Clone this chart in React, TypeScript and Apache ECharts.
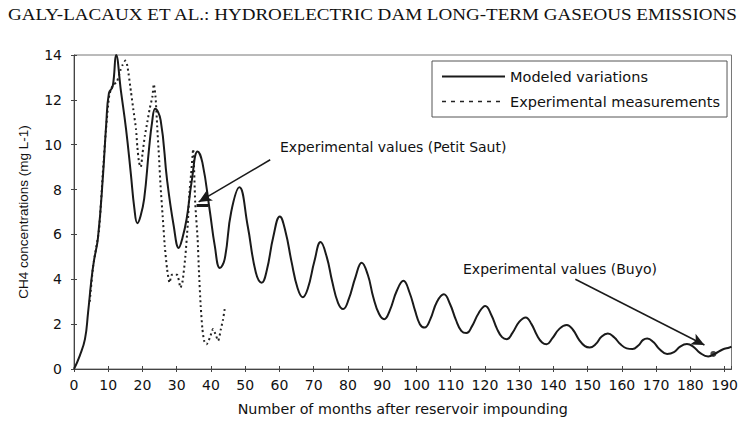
import React, { useEffect, useRef } from "react";
import * as echarts from "echarts";

const TITLE = "GALY-LACAUX ET AL.: HYDROELECTRIC DAM LONG-TERM GASEOUS EMISSIONS";
const X_NAME = "Number of months after reservoir impounding";
const Y_NAME = "CH4 concentrations (mg L-1)";
const SERIES_NAMES = ["Modeled variations", "Experimental measurements"];

// Modeled variations (month, mg/L)
const modeledMonths = [
  0, 1.7, 3.2, 4.1, 5.1, 5.8, 7, 8.5, 9.4, 10.2, 11.3, 12.3, 13.7, 15.2, 16.6, 17.6, 18.5, 19.4, 20.5, 21.9,
  22.8, 23.7, 25.3, 27.2, 29.1, 30.6, 31.6, 32.9, 34.4, 36.1, 37.5, 39.7, 41.1, 42.6, 44, 45.9, 48.3, 50.7,
  53.1, 54.8, 56.3, 58.2, 60.1, 61.8, 63.5, 65.3, 66.8, 68.3, 70.2, 72, 73.8, 75.4, 77.1, 78.6, 80.2, 82.2,
  84, 85.8, 87.4, 89.1, 90.6, 92.2, 94.3, 96.2, 98, 99.6, 101, 102.4, 104, 106, 108, 109.8, 111.5, 113.1,
  114.6, 116.2, 118.2, 120.1, 121.9, 123.5, 125, 126.4, 128, 130, 131.9, 133.6, 135.2, 136.7, 138, 139.6,
  141.8, 143.9, 145.7, 147.5, 149.2, 150.6, 152.3, 154.1, 155.9, 157.8, 159.6, 161.4, 163.1, 164.8, 166.2,
  167.4, 169.2, 171, 173.2, 175.2, 177, 179, 180.8, 182.8, 185.2, 187.2, 189.4, 191.4, 192,
];
const modeledValues = [
  0, 0.6, 1.33, 2.5, 4.0, 4.8, 5.85, 8.7, 10.9, 12.3, 12.6, 14.0, 12.4, 10.7, 8.7, 7.2, 6.5, 6.8, 7.6, 9.8,
  11.0, 11.6, 11.1, 8.4, 6.4, 5.4, 5.8, 6.7, 8.4, 9.7, 9.2, 7.0, 5.5, 4.5, 4.9, 7.0, 8.1, 6.4,
  4.3, 3.85, 4.4, 5.9, 6.8, 6.1, 4.8, 3.6, 3.2, 3.6, 4.8, 5.66, 5.0, 3.9, 2.95, 2.67, 3.1, 4.1,
  4.74, 4.2, 3.2, 2.45, 2.22, 2.6, 3.5, 3.93, 3.4, 2.6, 2.0, 1.85, 2.2, 3.0, 3.33, 2.9, 2.2, 1.7,
  1.6, 1.9, 2.5, 2.81, 2.4, 1.8, 1.42, 1.33, 1.6, 2.1, 2.3, 2.0, 1.5, 1.18, 1.1, 1.35,
  1.8, 1.96, 1.75, 1.3, 1.02, 0.96, 1.1, 1.45, 1.58, 1.4, 1.1, 0.92, 0.89, 1.05, 1.3,
  1.36, 1.2, 0.88, 0.67, 0.75, 1.0, 1.11, 1.0, 0.72, 0.56, 0.68, 0.87, 0.96, 1.0,
];

// Experimental measurements, Petit Saut (month, mg/L)
const measuredMonths = [
  4.6, 5.6, 7.3, 8.4, 9.3, 10.3, 11.3, 12.5, 13.5, 14.2, 15.0, 15.6, 16.6, 17.3, 18.1, 18.5, 19.0, 19.5,
  20.0, 20.7, 21.4, 22.1, 22.9, 23.3, 23.8, 24.3, 24.8, 25.3, 25.9, 26.5, 27.2, 27.9, 28.6, 30.1, 31.1,
  31.7, 32.5, 33.2, 33.7, 34.2, 34.8, 35.4, 36.1, 36.5, 37.0, 37.5, 38.0, 38.7, 39.7, 40.6, 41.3, 42.1,
  42.9, 43.5, 44.0,
];
const measuredValues = [
  3.0, 4.6, 6.2, 8.7, 10.6, 12.2, 12.65, 12.8, 13.3, 13.56, 13.75, 13.5, 12.4, 11.6, 10.7, 9.9, 9.2, 9.0,
  9.6, 10.4, 11.0, 11.6, 12.15, 12.7, 12.15, 10.8, 9.5, 8.1, 6.8, 5.5, 4.44, 3.85, 4.2, 4.2, 3.63,
  3.9, 5.0, 6.4, 7.85, 8.7, 9.8, 7.4, 5.8, 4.3, 2.8, 1.78, 1.26, 1.1, 1.41, 1.78, 1.56, 1.26,
  1.78, 2.2, 2.67,
];

// Experimental value, Buyo (month, mg/L)
const buyoMonths = [186.7];
const buyoValues = [0.67];

const zip = (xs: number[], ys: number[]) => xs.map((x, i) => [x, ys[i]]);

const INK = "#1a1a1a";
const SANS = "DejaVu Sans";

export default function App() {
  const ref = useRef<HTMLDivElement>(null);

  useEffect(() => {
    if (!ref.current) return;
    const chart = echarts.init(ref.current, null, { renderer: "svg" });
    const axisCommonX = {
      type: "value",
      min: 0,
      max: 192,
      interval: 10,
      splitLine: { show: false },
    };
    const axisCommonY = {
      type: "value",
      min: 0,
      max: 14,
      interval: 2,
      splitLine: { show: false },
    };
    chart.setOption({
      animation: false,
      backgroundColor: "#ffffff",
      grid: {
        left: 74,
        right: 1,
        top: 55,
        bottom: 51,
        show: true,
        borderColor: "#777",
        borderWidth: 1,
        backgroundColor: "transparent",
      },
      graphic: [
        {
          type: "text",
          x: 8,
          y: 14,
          scaleX: 1.148,
          style: {
            text: TITLE,
            fontFamily: "Liberation Serif",
            fontSize: 16.6,
            fill: "#111",
            align: "left",
            verticalAlign: "middle",
          },
        },
        {
          type: "text",
          x: 280,
          y: 147,
          style: {
            text: "Experimental values (Petit Saut)",
            fontFamily: SANS,
            fontSize: 14,
            fill: "#111",
            align: "left",
            verticalAlign: "middle",
          },
        },
        {
          type: "text",
          x: 463,
          y: 269,
          style: {
            text: "Experimental values (Buyo)",
            fontFamily: SANS,
            fontSize: 14,
            fill: "#111",
            align: "left",
            verticalAlign: "middle",
          },
        },
      ],
      legend: {
        data: [
          { name: SERIES_NAMES[0] },
          { name: SERIES_NAMES[1], lineStyle: { type: [4, 5], width: 1.5 } },
        ],
        orient: "vertical",
        left: 432,
        top: 61,
        padding: [8, 7, 8, 9],
        itemGap: 10,
        itemWidth: 63,
        itemHeight: 14,
        itemStyle: { opacity: 0 },
        borderColor: "#555",
        borderWidth: 1,
        backgroundColor: "#fff",
        textStyle: { fontFamily: SANS, fontSize: 14.5, color: "#111" },
      },
      xAxis: [
        {
          ...axisCommonX,
          position: "bottom",
          axisLine: { show: true, onZero: false, lineStyle: { color: "#444", width: 1 } },
          axisTick: { show: true, length: 3, lineStyle: { color: "#444" } },
          axisLabel: {
            margin: 9,
            fontFamily: SANS,
            fontSize: 14,
            color: "#111",
            showMaxLabel: false,
            formatter: (v: number) => (v % 10 === 0 ? String(v) : ""),
          },
          name: X_NAME,
          nameLocation: "middle",
          nameGap: 33,
          nameTextStyle: { fontFamily: SANS, fontSize: 14.3, color: "#111" },
        },
        {
          ...axisCommonX,
          position: "bottom",
          offset: 0,
          axisLine: { show: false },
          axisTick: { show: true, inside: true, length: 3, lineStyle: { color: "#444" } },
          axisLabel: { show: false },
        },
      ],
      yAxis: [
        {
          ...axisCommonY,
          position: "left",
          axisLine: { show: true, onZero: false, lineStyle: { color: "#444", width: 1 } },
          axisTick: { show: true, length: 3, lineStyle: { color: "#444" } },
          axisLabel: { margin: 12, fontFamily: SANS, fontSize: 14, color: "#111" },
          name: Y_NAME,
          nameLocation: "middle",
          nameGap: 44,
          nameTextStyle: { fontFamily: "Liberation Sans", fontSize: 13.5, color: "#111" },
        },
        {
          ...axisCommonY,
          position: "left",
          offset: 0,
          axisLine: { show: false },
          axisTick: { show: true, inside: true, length: 3, lineStyle: { color: "#444" } },
          axisLabel: { show: false },
        },
      ],
      series: [
        {
          name: SERIES_NAMES[0],
          type: "line",
          data: zip(modeledMonths, modeledValues),
          smooth: 0.45,
          symbol: "none",
          color: INK,
          lineStyle: { color: INK, width: 2 },
          z: 3,
          markLine: {
            silent: true,
            symbol: ["none", "arrow"],
            symbolSize: [9, 13],
            label: { show: false },
            lineStyle: { color: INK, width: 1.5, type: "solid" },
            data: [
              [{ coord: [57.3, 9.33] }, { coord: [36.4, 7.45] }],
              [{ coord: [146.4, 4.0] }, { coord: [184.1, 1.07] }],
            ],
          },
        },
        {
          name: SERIES_NAMES[1],
          type: "line",
          data: zip(measuredMonths, measuredValues),
          smooth: 0.2,
          symbol: "none",
          color: INK,
          lineStyle: { color: "#222", width: 2, type: [2, 3] },
          z: 2,
          markLine: {
            silent: true,
            symbol: ["none", "none"],
            label: { show: false },
            lineStyle: { color: INK, width: 3, type: "solid" },
            data: [[{ coord: [35.8, 7.3] }, { coord: [39.2, 7.3] }]],
          },
        },
        {
          name: "Buyo",
          type: "scatter",
          data: zip(buyoMonths, buyoValues),
          symbol: "circle",
          symbolSize: 6,
          itemStyle: { color: INK },
          z: 4,
        },
      ],
    });
    return () => chart.dispose();
  }, []);

  return (
    <div
      ref={ref}
      style={{ position: "fixed", left: 0, top: 0, width: 741, height: 421 }}
    />
  );
}
